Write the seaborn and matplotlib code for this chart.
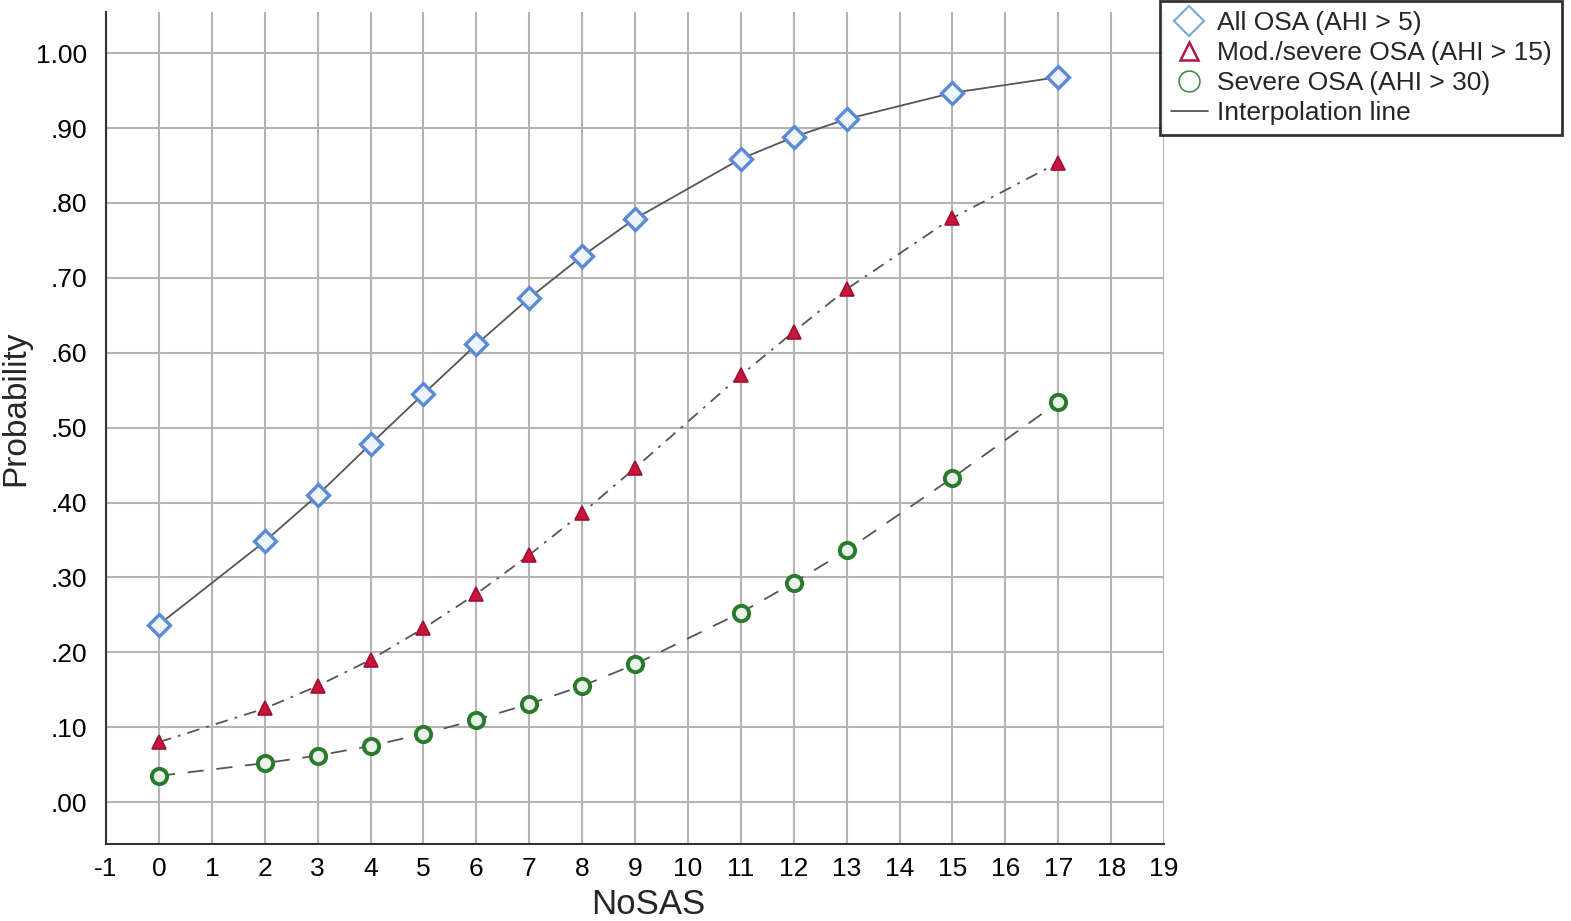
import matplotlib
matplotlib.use("Agg")
import matplotlib.pyplot as plt
from matplotlib.lines import Line2D
import seaborn as sns
import pandas as pd

NOSAS = [0, 2, 3, 4, 5, 6, 7, 8, 9, 11, 12, 13, 15, 17]
ALL_OSA = [0.237, 0.348, 0.410, 0.478, 0.545, 0.611, 0.673, 0.729, 0.779, 0.859, 0.888, 0.912, 0.947, 0.968]
MOD_SEVERE = [0.080, 0.125, 0.155, 0.190, 0.232, 0.278, 0.330, 0.386, 0.446, 0.570, 0.628, 0.685, 0.780, 0.854]
SEVERE = [0.035, 0.052, 0.062, 0.075, 0.091, 0.110, 0.131, 0.155, 0.184, 0.253, 0.293, 0.336, 0.433, 0.534]
LABELS = ["All OSA (AHI > 5)", "Mod./severe OSA (AHI > 15)", "Severe OSA (AHI > 30)"]
X_TICKS = list(range(-1, 20))
Y_TICKS = [0.0, 0.1, 0.2, 0.3, 0.4, 0.5, 0.6, 0.7, 0.8, 0.9, 1.0]
Y_TICK_LABELS = [".00", ".10", ".20", ".30", ".40", ".50", ".60", ".70", ".80", ".90", "1.00"]

sns.set_style("white")
plt.rcParams["font.family"] = ["Liberation Sans", "DejaVu Sans"]

fig = plt.figure(figsize=(15.71, 9.21), dpi=100)
ax = fig.add_axes([0.0675, 0.0836, 0.6735, 0.9034])

styles = [
    dict(marker="D", ms=11.5, mfc="#eef4fb", mec="#5a8ad6", mew=2.4, dashes=None),
    dict(marker="^", ms=10, mfc="#c8143f", mec="#a0102f", mew=1.2, dashes=(7, 4, 1.5, 4)),
    dict(marker="o", ms=11, mfc="#e8f2e8", mec="#2a7a2e", mew=2.8, dashes=(9, 7)),
]

for ys, lab, st in zip([ALL_OSA, MOD_SEVERE, SEVERE], LABELS, styles):
    df = pd.DataFrame({"NoSAS": NOSAS, "p": ys})
    line_kw = dict(color="#555555", linewidth=1.3, zorder=2)
    if st["dashes"] is not None:
        line_kw["dashes"] = st["dashes"]
    sns.lineplot(data=df, x="NoSAS", y="p", ax=ax, **line_kw)
    ax.plot(NOSAS, ys, linestyle="none", marker=st["marker"], markersize=st["ms"],
            markerfacecolor=st["mfc"], markeredgecolor=st["mec"], markeredgewidth=st["mew"], zorder=3)

ax.set_xlim(-1, 19)
ax.set_ylim(-0.056, 1.055)
ax.set_xticks(X_TICKS)
ax.set_xticklabels([str(v) for v in X_TICKS])
ax.set_yticks(Y_TICKS)
ax.set_yticklabels(Y_TICK_LABELS)
ax.grid(True, color="#b4b4b4", linewidth=1.5)
ax.set_axisbelow(True)
for s in ["top", "right"]:
    ax.spines[s].set_visible(False)
for s in ["left", "bottom"]:
    ax.spines[s].set_color("#333333")
    ax.spines[s].set_linewidth(1.5)
ax.tick_params(axis="both", length=0, labelsize=19, colors="black")
ax.tick_params(axis="y", pad=13.5)
ax.tick_params(axis="x", pad=9)
ax.set_xlabel("NoSAS", fontsize=25)
ax.set_ylabel("Probability", fontsize=24)
ax.xaxis.set_label_coords(0.512, -0.053)
ax.yaxis.set_label_coords(-0.071, 0.524)

handles = [
    Line2D([], [], linestyle="none", marker="D", markersize=15, markerfacecolor="white",
           markeredgecolor="#7aa6d8", markeredgewidth=1.5),
    Line2D([], [], linestyle="none", marker="^", markersize=13, markerfacecolor="white",
           markeredgecolor="#b0174a", markeredgewidth=1.8),
    Line2D([], [], linestyle="none", marker="o", markersize=15, markerfacecolor="white",
           markeredgecolor="#4a8a4a", markeredgewidth=1.2),
    Line2D([], [], color="#555555", linewidth=1.3),
]
leg = fig.legend(handles, LABELS + ["Interpolation line"], loc="upper left",
                 bbox_to_anchor=(0.7385, 0.999), bbox_transform=fig.transFigure,
                 fontsize=19, frameon=True, fancybox=False, edgecolor="black",
                 handlelength=1.4, handletextpad=0.35, labelspacing=0.22,
                 borderpad=0.4, borderaxespad=0)
leg.get_frame().set_linewidth(2)

fig.savefig("out.png", dpi=100)
